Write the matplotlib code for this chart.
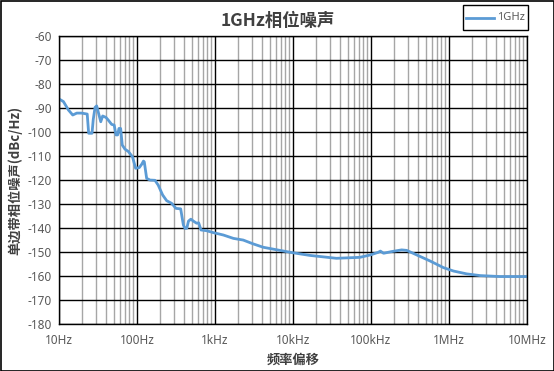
import matplotlib
matplotlib.use("Agg")
import matplotlib.pyplot as plt
from matplotlib.ticker import LogLocator, FixedLocator, NullFormatter
from matplotlib.patches import Rectangle
from matplotlib.lines import Line2D

plt.rcParams['font.family'] = ['Noto Sans CJK SC', 'DejaVu Sans']

# Data (offset frequency Hz, SSB phase noise dBc/Hz)
freq = [10, 11.4, 13.2, 15, 16.9, 19.5, 23, 24, 26.5, 27.5, 29, 30.4, 32.6, 34.3,
        36.3, 40, 42.8, 47.3, 51, 53.8, 56.5, 58.7, 61.7, 64.7, 70, 77.5, 87.5,
        96, 107, 115, 121, 124, 133, 147, 170, 187, 213, 240, 278, 316, 363, 393,
        412, 435, 457, 490, 528, 582, 617, 661, 780, 950, 1280, 1720, 2300, 3090,
        4150, 6790, 10000, 16500, 36000, 72000, 98000, 124000, 132000, 145000,
        184000, 247000, 287000, 386000, 570000, 850000, 1140000, 1690000,
        2500000, 4500000, 10000000]
noise = [-86.1, -87.2, -90.7, -92.8, -92.0, -92.0, -92.4, -100.4, -100.4, -94.6,
         -89.6, -89.0, -92.8, -95.6, -93.2, -93.8, -94.9, -96.7, -97.0, -101.1,
         -101.1, -98.4, -98.4, -105.3, -107.0, -108.0, -110.2, -115.0, -114.7,
         -113.3, -112.0, -112.3, -119.2, -119.9, -120.0, -122.0, -126.1, -128.5,
         -129.6, -131.7, -131.9, -138.6, -140.0, -140.0, -137.0, -136.2, -137.0,
         -137.9, -137.7, -140.7, -141.0, -141.8, -142.8, -144.2, -144.9, -146.5,
         -147.9, -149.2, -150.2, -151.3, -152.5, -152.1, -151.1, -150.0, -149.5,
         -150.4, -149.7, -149.0, -149.2, -151.1, -153.6, -156.4, -157.8, -159.0,
         -159.7, -160.1, -160.1]

x_ticks = [10, 100, 1e3, 1e4, 1e5, 1e6, 1e7]
x_labels = ['10Hz', '100Hz', '1kHz', '10kHz', '100kHz', '1MHz', '10MHz']
y_ticks = list(range(-180, -59, 10))
y_labels = [str(v) for v in y_ticks]

title = '1GHz相位噪声'
xlabel = '频率偏移'
ylabel = '单边带相位噪声(dBc/Hz)'
series_name = '1GHz'

fig = plt.figure(figsize=(5.54, 3.71), dpi=100)
ax = fig.add_axes([59/554, 1-324.3/371, (527-59)/554, (324.3-36.3)/371])

line_color = '#5B9BD5'
ax.plot(freq, noise, color=line_color, lw=2.0, solid_joinstyle='round', zorder=3)

ax.set_xscale('log')
ax.set_xlim(10, 1e7)
ax.set_ylim(-180, -60)
ax.xaxis.set_major_locator(FixedLocator(x_ticks))
ax.set_xticklabels(x_labels)
ax.xaxis.set_minor_locator(LogLocator(base=10, subs=range(2, 10), numticks=100))
ax.xaxis.set_minor_formatter(NullFormatter())
ax.set_yticks(y_ticks)
ax.set_yticklabels(y_labels)

ax.grid(which='minor', axis='x', color='#A6A6A6', lw=1.0, zorder=1)
ax.grid(which='major', axis='both', color='black', lw=1.0, zorder=2)
for s in ax.spines.values():
    s.set_color('black')
    s.set_linewidth(1.0)
    s.set_zorder(4)

ax.tick_params(which='both', length=0)
ax.tick_params(axis='y', pad=5, labelsize=8.5, labelcolor='#595959')
ax.tick_params(axis='x', pad=7, labelsize=8.5, labelcolor='#595959')

ax.set_xlabel(xlabel, fontsize=9.5, fontweight='bold', color='#404040', labelpad=4)
ax.set_ylabel(ylabel, fontsize=9.5, fontweight='bold', color='#404040', labelpad=4)
fig.text(278/554, 1 - 21/371, title, fontsize=12.5, fontweight='bold',
         color='#404040', ha='center', va='center')

# legend box
fig.patches.append(Rectangle((462.7/554, 1-30/371), (527.7-462.7)/554, 25/371,
                             transform=fig.transFigure, fill=False,
                             edgecolor='black', lw=1.0))
fig.lines.append(Line2D([466/554, 494/554], [1-17.5/371]*2, transform=fig.transFigure,
                        color=line_color, lw=2.0))
fig.text(497/554, 1-17.5/371, series_name, fontsize=8, color='#595959',
         ha='left', va='center', family=['Noto Sans', 'DejaVu Sans'])

# outer border
fig.patches.append(Rectangle((0.5/554, 0.5/371), 553/554, 370/371,
                             transform=fig.transFigure, fill=False,
                             edgecolor='black', lw=1.2))

for lbl in ax.get_xticklabels() + ax.get_yticklabels():
    lbl.set_family(['Noto Sans', 'DejaVu Sans'])

fig.savefig('out.png', dpi=100)
